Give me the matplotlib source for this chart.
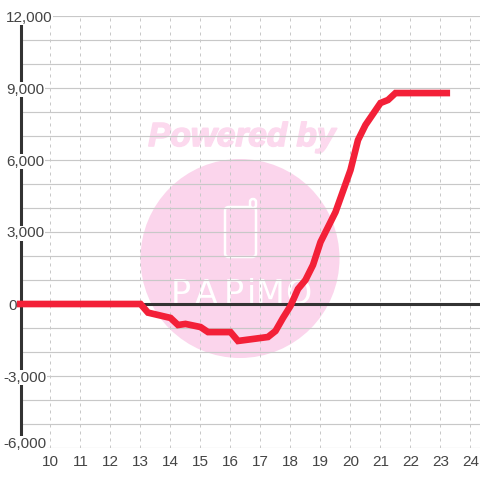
import matplotlib
matplotlib.use('Agg')
import matplotlib.pyplot as plt
import matplotlib.patheffects as pe
from matplotlib.patches import Circle, FancyBboxPatch
from matplotlib.ticker import MultipleLocator
from matplotlib.transforms import blended_transform_factory

hours = [8.88, 13, 13.25, 14, 14.25, 14.5, 15, 15.25, 16, 16.25, 17.25, 17.5, 17.75, 18, 18.25, 18.5,
         18.75, 19, 19.5, 20, 20.25, 20.5, 21, 21.25, 21.5, 21.75, 23.32]
values = [0, 0, -360, -580, -875, -830, -960, -1170, -1170, -1540, -1375, -1125, -580, -80, 625, 1000,
          1625, 2580, 3830, 5580, 6830, 7460, 8375, 8500, 8790, 8790, 8790]
x_ticks = list(range(10, 25))
y_ticks = [12000, 9000, 6000, 3000, 0, -3000, -6000]
brand_letters = ['P', 'A', 'P', 'i', 'M', 'O']

plt.rcParams['font.family'] = ['Liberation Sans', 'DejaVu Sans']

fig = plt.figure(figsize=(4.8, 4.8), dpi=100)
# axes box in pixels: x 20.5..480, y 16..448
ax = fig.add_axes([20.5 / 480, 1 - 448 / 480, 459.5 / 480, 432 / 480])
ax.set_xlim(9, 24.317)
ax.set_ylim(-6000, 12000)
ax.patch.set_visible(False)
for name in ['top', 'right', 'bottom']:
    ax.spines[name].set_visible(False)
ax.spines['left'].set_color('#333333')
ax.spines['left'].set_linewidth(2.2)
ax.spines['left'].set_zorder(2.5)
ax.tick_params(length=0, labelbottom=False, labelleft=False)

# watermark sits behind the grid
pink = '#fbd5ec'
fig.add_artist(Circle((240 / 480, 1 - 258.5 / 480), 99.5 / 480, transform=fig.transFigure,
                      fc=pink, ec='none', zorder=-3))
fig.add_artist(FancyBboxPatch((225 / 480, 1 - 257 / 480), 31 / 480, 50 / 480,
                              boxstyle='round,pad=0,rounding_size=0.008', transform=fig.transFigure,
                              fc='none', ec='white', lw=1.8, zorder=-2))
fig.add_artist(FancyBboxPatch((250 / 480, 1 - 208 / 480), 6 / 480, 9 / 480,
                              boxstyle='round,pad=0,rounding_size=0.006', transform=fig.transFigure,
                              fc=pink, ec='white', lw=1.8, zorder=-2))
powered = fig.text(242 / 480, 1 - 146 / 480, 'Powered by', ha='center', va='baseline', fontsize=24,
                   fontweight='bold', fontstyle='italic', color='#fcd9ee', zorder=-2)
powered.set_path_effects([pe.withStroke(linewidth=1.2, foreground='#fcd9ee')])
for letter, px in zip(brand_letters, [181, 206, 234, 251, 270, 298]):
    fig.text(px / 480, 1 - 304 / 480, letter, ha='center', va='baseline', fontsize=24,
             family='Liberation Sans Narrow', color='white', zorder=-2)

ax.yaxis.set_major_locator(MultipleLocator(1000))
ax.xaxis.set_major_locator(MultipleLocator(1))
ax.grid(True, axis='y', color='#c8c8c8', lw=0.85, zorder=1)
ax.grid(True, axis='x', color='#c8c8c8', lw=0.72, ls=(0, (3, 4)), zorder=1)
ax.set_axisbelow(True)

ax.axhline(0, color='#333333', lw=2.2, zorder=2)
ax.plot(hours, values, color='#f32038', lw=4.8, solid_joinstyle='miter', solid_capstyle='butt',
        zorder=3, clip_on=False)

y_text = blended_transform_factory(fig.transFigure, ax.transData)
x_text = blended_transform_factory(ax.transData, fig.transFigure)
for v in y_ticks:
    x_pos = 6 / 480 if v > 0 else (8 / 480 if v == 0 else 3 / 480)
    # bottom label is nudged up inside the plot
    y_pos = v + 250 if v == -6000 else v
    ax.text(x_pos, y_pos, f'{v:,}', transform=y_text, ha='left', va='center_baseline',
            fontsize=11, color='#444444', zorder=4 if v != 0 else 2,
            bbox=dict(fc='white', ec='none', pad=0.5) if v != 0 else None)
for h in x_ticks:
    ax.text(h, 1 - 460 / 480, str(h), transform=x_text, ha='center', va='center_baseline',
            fontsize=11, color='#444444', zorder=4)

fig.savefig('out.png', dpi=100)
